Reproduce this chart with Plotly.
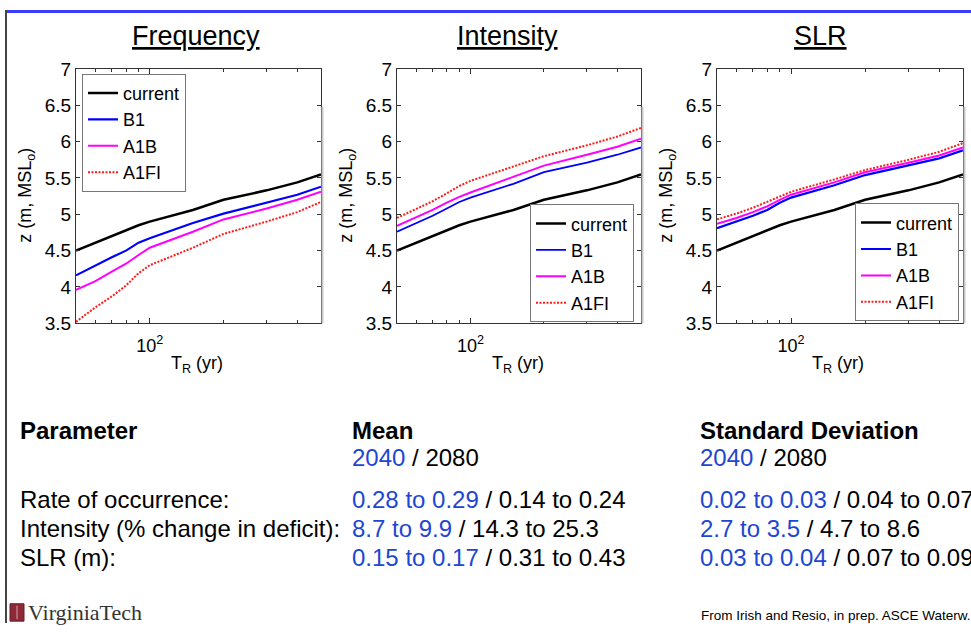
import plotly.graph_objects as go

W, H = 971, 637

def PX(x):
    return x / W

def PY(y):
    return 1 - y / H

# ---------------- data ----------------
T_R = [50, 60, 70, 80, 90, 100, 150, 200, 300, 400, 500]

current = [4.50, 4.61, 4.70, 4.78, 4.85, 4.90, 5.06, 5.20, 5.33, 5.44, 5.55]

freq_B1 = [4.16, 4.30, 4.41, 4.50, 4.61, 4.67, 4.88, 5.01, 5.16, 5.27, 5.38]
freq_A1B = [3.96, 4.08, 4.21, 4.32, 4.44, 4.54, 4.76, 4.93, 5.08, 5.20, 5.31]
freq_A1FI = [3.52, 3.72, 3.87, 4.02, 4.19, 4.30, 4.54, 4.73, 4.90, 5.03, 5.17]

int_B1 = [4.76, 4.88, 4.98, 5.08, 5.17, 5.23, 5.42, 5.58, 5.71, 5.82, 5.92]
int_A1B = [4.84, 4.96, 5.06, 5.16, 5.24, 5.30, 5.51, 5.67, 5.82, 5.93, 6.04]
int_A1FI = [4.95, 5.07, 5.18, 5.29, 5.39, 5.46, 5.66, 5.80, 5.95, 6.07, 6.19]

slr_B1 = [4.81, 4.90, 4.98, 5.06, 5.16, 5.23, 5.40, 5.54, 5.67, 5.77, 5.88]
slr_A1B = [4.87, 4.95, 5.03, 5.11, 5.20, 5.27, 5.44, 5.58, 5.71, 5.81, 5.92]
slr_A1FI = [4.93, 5.01, 5.09, 5.17, 5.25, 5.31, 5.48, 5.61, 5.75, 5.86, 5.98]

panel_titles = ["Frequency", "Intensity", "SLR"]
series_names = ["current", "B1", "A1B", "A1FI"]
y_tickvals = [3.5, 4, 4.5, 5, 5.5, 6, 6.5, 7]
x_major_ticks = [100]
x_major_labels = ["10<sup>2</sup>"]
x_minor_ticks = [60, 70, 80, 90, 200, 300, 400]

params = ["Rate of occurrence:", "Intensity (% change in deficit):", "SLR (m):"]
mean_2040 = ["0.28 to 0.29", "8.7 to 9.9", "0.15 to 0.17"]
mean_2080 = ["0.14 to 0.24", "14.3 to 25.3", "0.31 to 0.43"]
sd_2040 = ["0.02 to 0.03", "2.7 to 3.5", "0.03 to 0.04"]
sd_2080 = ["0.04 to 0.07", "4.7 to 8.6", "0.07 to 0.09"]

# ---------------- styles ----------------
FONT = "Arial, 'Liberation Sans', Helvetica, sans-serif"
BLUE_TXT = "#1e46d2"
styles = {
    "current": dict(color="black", width=2.5, dash="solid"),
    "B1": dict(color="#0000ff", width=2.2, dash="solid"),
    "A1B": dict(color="#ff00ff", width=2.0, dash="solid"),
    "A1FI": dict(color="#ff1a1a", width=2.0, dash="2px,1.5px"),
}

panels = [
    dict(series=[current, freq_B1, freq_A1B, freq_A1FI], x0=76, x1=321,
         legend=dict(x=PX(82), y=PY(66), xanchor="left", yanchor="top")),
    dict(series=[current, int_B1, int_A1B, int_A1FI], x0=397, x1=641,
         legend=dict(x=PX(634), y=PY(323), xanchor="right", yanchor="bottom")),
    dict(series=[current, slr_B1, slr_A1B, slr_A1FI], x0=717, x1=963,
         legend=dict(x=PX(959), y=PY(322), xanchor="right", yanchor="bottom")),
]
title_x = [196, 508, 820]
ytop, ybot = 61, 324

fig = go.Figure()
layout = dict(
    width=W, height=H,
    margin=dict(l=0, r=0, t=0, b=0),
    paper_bgcolor="white", plot_bgcolor="white",
    font=dict(family=FONT, color="black"),
    showlegend=True,
)

annotations = []
shapes = []

for i, p in enumerate(panels):
    sfx = "" if i == 0 else str(i + 1)
    leg = "legend" if i == 0 else "legend" + str(i + 1)
    for name, ys in zip(series_names, p["series"]):
        st = styles[name]
        w = st["width"]
        if i == 1 and name == "B1":
            w = 1.8
        fig.add_trace(go.Scatter(
            x=T_R, y=ys, mode="lines", name=name,
            line=dict(color=st["color"], width=w, dash=st["dash"]),
            xaxis="x" + sfx, yaxis="y" + sfx, legend=leg,
        ))
    layout["xaxis" + sfx] = dict(
        domain=[PX(p["x0"]), PX(p["x1"])], anchor="y" + sfx,
        type="log", range=[1.69897, 2.69897],
        tickmode="array", tickvals=x_major_ticks, ticktext=x_major_labels,
        ticks="inside", ticklen=5, tickcolor="#333", tickwidth=1,
        ticklabelstandoff=6,
        minor=dict(tickmode="array", tickvals=x_minor_ticks, ticks="inside",
                   ticklen=3, tickcolor="#333", showgrid=False),
        showline=True, linecolor="#333", linewidth=1, mirror="ticks",
        showgrid=False, zeroline=False,
        tickfont=dict(size=18, family=FONT, color="black"),
    )
    layout["yaxis" + sfx] = dict(
        domain=[PY(ybot), PY(ytop)], anchor="x" + sfx,
        range=[3.5, 7], tickmode="array", tickvals=y_tickvals,
        ticks="inside", ticklen=4, tickcolor="#333", tickwidth=1,
        showline=True, linecolor="#333", linewidth=1, mirror="ticks",
        showgrid=False, zeroline=False,
        tickfont=dict(size=19, family=FONT, color="black"),
    )
    lg = dict(p["legend"])
    lg.update(bgcolor="white", bordercolor="#777", borderwidth=1,
              font=dict(size=18, family=FONT, color="black"),
              tracegroupgap=0, itemwidth=30)
    layout[leg] = lg

    annotations.append(dict(
        x=PX(title_x[i]), y=PY(27), xref="paper", yref="paper",
        text="<u>" + panel_titles[i] + "</u>", showarrow=False,
        xanchor="center", yanchor="middle",
        font=dict(size=27, family=FONT, color="black")))
    annotations.append(dict(
        x=PX(p["x0"] - 49), y=PY(192), xref="paper", yref="paper",
        text="z (m, MSL<sub>o</sub>)", showarrow=False, textangle=-90,
        xanchor="center", yanchor="middle",
        font=dict(size=18, family=FONT, color="black")))
    annotations.append(dict(
        x=PX(p["x0"] + 121), y=PY(367), xref="paper", yref="paper",
        text="T<sub>R</sub> (yr)", showarrow=False,
        xanchor="center", yanchor="middle",
        font=dict(size=18, family=FONT, color="black")))
    shapes.append(dict(type="line", xref="paper", yref="paper",
                       x0=PX(p["x1"] + 1.5), x1=PX(p["x1"] + 1.5),
                       y0=PY(100), y1=PY(ybot),
                       line=dict(color="#c8c8c8", width=2)))

shapes.append(dict(type="rect", xref="paper", yref="paper",
                   x0=PX(7), x1=1, y0=PY(3), y1=1,
                   fillcolor="#3b3bff", line=dict(width=0)))
shapes.append(dict(type="line", xref="paper", yref="paper",
                   x0=PX(6), x1=PX(6), y0=PY(634), y1=1,
                   line=dict(color="#444", width=2)))
shapes.append(dict(type="rect", xref="paper", yref="paper",
                   x0=PX(10), x1=PX(24), y0=PY(632), y1=PY(614),
                   fillcolor="#8c2a38", line=dict(color="#6b1a26", width=1)))
shapes.append(dict(type="line", xref="paper", yref="paper",
                   x0=PX(17), x1=PX(17), y0=PY(630), y1=PY(616),
                   line=dict(color="#d9a0a8", width=1)))

def txt(x, y, s, size=24, color="black"):
    annotations.append(dict(
        x=PX(x), y=PY(y), xref="paper", yref="paper", text=s,
        showarrow=False, xanchor="left", yanchor="middle",
        font=dict(size=size, family=FONT, color=color)))

def blue(s):
    return "<span style='color:%s'>%s</span>" % (BLUE_TXT, s)

txt(18, 435, "<b>Parameter</b>")
txt(350, 435, "<b>Mean</b>")
txt(698, 435, "<b>Standard Deviation</b>")
txt(350, 463, blue("2040") + " / 2080")
txt(698, 463, blue("2040") + " / 2080")
row_y = [506, 536, 566]
for k in range(3):
    txt(18, row_y[k], params[k])
    txt(350, row_y[k], blue(mean_2040[k]) + " / " + mean_2080[k])
    txt(698, row_y[k], blue(sd_2040[k]) + " / " + sd_2080[k])

annotations.append(dict(
    x=PX(26), y=PY(623), xref="paper", yref="paper", text="VirginiaTech",
    showarrow=False, xanchor="left", yanchor="middle",
    font=dict(size=22, family="'Liberation Serif', 'Times New Roman', serif",
              color="#333")))
annotations.append(dict(
    x=PX(699), y=PY(626), xref="paper", yref="paper",
    text="From Irish and Resio, in prep. ASCE Waterw.",
    showarrow=False, xanchor="left", yanchor="middle",
    font=dict(size=13.5, family=FONT, color="black")))

layout["annotations"] = annotations
layout["shapes"] = shapes
fig.update_layout(**layout)
fig.write_html("out.html")
